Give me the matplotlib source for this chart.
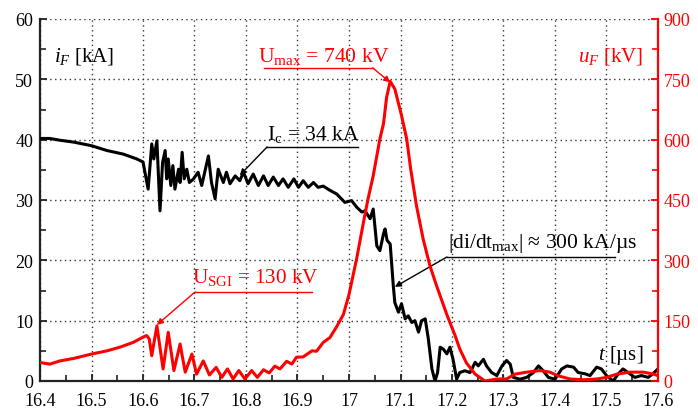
import matplotlib
matplotlib.use("Agg")
import matplotlib.pyplot as plt
from matplotlib.ticker import MultipleLocator

plt.rcParams['font.family'] = ['Liberation Serif', 'DejaVu Serif']
plt.rcParams['mathtext.fontset'] = 'custom'
plt.rcParams['mathtext.rm'] = 'Liberation Serif'
plt.rcParams['mathtext.it'] = 'Liberation Serif:italic'

# ---- current i_F [kA] ----
t_i = [16.400, 16.419, 16.439, 16.465, 16.500, 16.530, 16.562, 16.588, 16.600,
       16.610, 16.617, 16.621, 16.627, 16.633, 16.638, 16.643, 16.646, 16.649,
       16.654, 16.658, 16.662, 16.669, 16.672, 16.676, 16.680, 16.685, 16.690,
       16.698, 16.707, 16.714, 16.727, 16.733, 16.740, 16.746, 16.756, 16.762,
       16.769, 16.779, 16.788, 16.795, 16.804, 16.814, 16.824, 16.834, 16.843,
       16.853, 16.863, 16.872, 16.882, 16.893, 16.902, 16.911, 16.921, 16.931,
       16.940, 16.950, 16.963, 16.976, 16.992, 17.005, 17.015, 17.025, 17.031,
       17.041, 17.047, 17.054, 17.060, 17.067, 17.070, 17.074, 17.080, 17.086,
       17.089, 17.096, 17.102, 17.109, 17.115, 17.122, 17.128, 17.135, 17.141,
       17.148, 17.154, 17.161, 17.167, 17.172, 17.177, 17.183, 17.190, 17.196,
       17.202, 17.209, 17.215, 17.225, 17.235, 17.245, 17.251, 17.261, 17.267,
       17.277, 17.287, 17.297, 17.306, 17.313, 17.319, 17.332, 17.345, 17.358,
       17.368, 17.377, 17.387, 17.400, 17.413, 17.423, 17.436, 17.445, 17.458,
       17.468, 17.481, 17.490, 17.500, 17.513, 17.523, 17.532, 17.542, 17.555,
       17.568, 17.581, 17.590, 17.600]
i_kA = [40.2, 40.2, 39.9, 39.6, 39.0, 38.2, 37.6, 36.8, 36.3,
        31.8, 39.3, 36.8, 39.8, 28.2, 36.2, 38.2, 33.5, 36.8,
        32.4, 35.7, 31.8, 35.1, 32.9, 37.9, 33.5, 35.1, 32.9,
        33.5, 34.6, 32.4, 37.3, 32.9, 30.2, 35.1, 32.9, 34.6,
        32.7, 34.0, 33.2, 34.6, 32.7, 34.3, 32.4, 34.0, 32.4,
        33.8, 32.4, 33.5, 32.1, 33.5, 32.1, 33.2, 32.1, 32.9,
        32.1, 32.3, 31.6, 31.0, 29.6, 29.9, 28.8, 28.0, 28.2,
        26.9, 28.5, 22.4, 21.6, 24.4, 25.2, 23.3, 22.7, 15.8,
        13.0, 11.4, 12.8, 10.3, 10.8, 9.7, 10.0, 8.1, 10.0,
        10.3, 7.0, 2.0, 0.0, 1.4, 5.6, 5.3, 4.5, 5.6,
        3.6, 0.3, 1.4, 1.7, 1.4, 3.1, 2.5, 3.6, 2.5,
        1.4, 0.9, 2.5, 3.4, 2.8, 0.6, 0.3, 0.6, 1.4,
        2.5, 1.7, 0.6, 0.3, 2.0, 2.5, 2.3, 1.4, 1.2,
        0.9, 2.3, 2.0, 0.9, 0.0, 1.2, 2.0, 1.4, 0.6,
        0.9, 0.6, 1.2, 2.0]

# ---- voltage u_F [kV] ----
t_u = [16.400, 16.419, 16.439, 16.465, 16.500, 16.530, 16.555, 16.581, 16.600,
       16.607, 16.612, 16.617, 16.627, 16.639, 16.649, 16.660, 16.672, 16.682,
       16.695, 16.704, 16.717, 16.729, 16.742, 16.753, 16.764, 16.775, 16.786,
       16.798, 16.811, 16.822, 16.834, 16.845, 16.856, 16.866, 16.879, 16.889,
       16.898, 16.911, 16.928, 16.937, 16.950, 16.963, 16.976, 16.989, 17.000,
       17.015, 17.028, 17.037, 17.047, 17.060, 17.067, 17.073, 17.080, 17.089,
       17.102, 17.112, 17.120, 17.131, 17.144, 17.157, 17.170, 17.190, 17.206,
       17.215, 17.228, 17.245, 17.264, 17.287, 17.306, 17.322, 17.345, 17.371,
       17.390, 17.406, 17.429, 17.455, 17.481, 17.500, 17.520, 17.546, 17.572,
       17.592, 17.600]
u_kV = [46, 42, 50, 56, 67, 75, 84, 96, 109,
        113, 105, 63, 137, 30, 121, 26, 92, 22,
        67, 17, 50, 15, 34, 9, 30, 5, 26,
        5, 26, 9, 28, 20, 37, 30, 49, 42,
        59, 60, 75, 74, 96, 108, 135, 165, 215,
        305, 394, 453, 510, 602, 640, 705, 745, 726,
        660, 602, 525, 436, 353, 287, 237, 165, 113,
        80, 45, 17, 0, 5, 5, 17, 22, 26,
        22, 13, 5, 3, 5, 9, 17, 22, 22,
        17, 13]

x_ticks = [16.4, 16.5, 16.6, 16.7, 16.8, 16.9, 17, 17.1, 17.2, 17.3, 17.4, 17.5, 17.6]
x_labels = ['16.4', '16.5', '16.6', '16.7', '16.8', '16.9', '17', '17.1', '17.2',
            '17.3', '17.4', '17.5', '17.6']
i_ticks = [0, 10, 20, 30, 40, 50, 60]
u_ticks = [0, 150, 300, 450, 600, 750, 900]

RED = '#ff0000'

fig = plt.figure(figsize=(6.98, 4.10), dpi=100)
ax = fig.add_axes([40/698, 28/410, 618/698, 362/410])
ax2 = ax.twinx()

ax.plot(t_i, i_kA, color='black', lw=2.2, zorder=3, solid_joinstyle='round')
ax2.plot(t_u, u_kV, color=RED, lw=2.2, zorder=3, solid_joinstyle='round')

ax.set_xlim(16.4, 17.6)
ax.set_ylim(0, 60)
ax2.set_ylim(0, 900)
ax.set_xticks(x_ticks)
ax.set_xticklabels(x_labels)
ax.set_yticks(i_ticks)
ax2.set_yticks(u_ticks)
ax.xaxis.set_minor_locator(MultipleLocator(0.05))
ax.yaxis.set_minor_locator(MultipleLocator(5))
ax2.yaxis.set_minor_locator(MultipleLocator(75))

ax.grid(True, which='major', linestyle=(0, (1, 2.5)), color='#333333', lw=1.0)
ax.set_axisbelow(True)

for a in (ax, ax2):
    a.spines['top'].set_visible(False)
ax.spines['right'].set_visible(False)
ax.spines['left'].set_linewidth(1.6)
ax.spines['left'].set_color('#222222')
ax.spines['bottom'].set_linewidth(1.6)
ax.spines['bottom'].set_color('#222222')
ax2.spines['left'].set_visible(False)
ax2.spines['bottom'].set_visible(False)
ax2.spines['right'].set_color(RED)
ax2.spines['right'].set_linewidth(1.6)

ax.tick_params(axis='both', which='major', direction='in', length=5, width=1.3,
               labelsize=13, color='#222222')
ax.tick_params(axis='both', which='minor', direction='in', length=4, width=1.2,
               color='#222222')
ax.tick_params(axis='x', pad=8)
ax.tick_params(axis='y', pad=5)
ax2.tick_params(axis='y', which='major', direction='in', length=5, width=1.3,
                labelsize=13, color=RED, labelcolor=RED, pad=4)
ax2.tick_params(axis='y', which='minor', direction='in', length=4, width=1.2,
                color=RED)

# axis captions
ax.text(0.022, 0.885, r'$i_F$ [kA]', transform=ax.transAxes, fontsize=15,
        ha='left', va='baseline')
ax.text(0.976, 0.885, r'$u_F$ [kV]', transform=ax.transAxes, fontsize=15,
        ha='right', va='baseline', color=RED)
ax.text(0.977, 0.06, r'$t$ [µs]', transform=ax.transAxes, fontsize=15,
        ha='right', va='baseline')

arrow_kw = dict(arrowstyle='-|>', lw=1.0, mutation_scale=9, shrinkA=0, shrinkB=0)

def leader(axis, text, tx, ty, ux0, ux1, uy, from_x, tip, color, fs):
    axis.text(tx, ty, text, fontsize=fs, color=color, ha='left', va='baseline',
              zorder=6)
    axis.plot([ux0, ux1], [uy, uy], color=color, lw=1.0, zorder=6)
    axis.annotate('', xy=tip, xytext=(from_x, uy),
                  arrowprops=dict(color=color, **arrow_kw), zorder=6)

leader(ax, r'U$_{\rm max}$ = 740 kV', 16.823, 53.0, 16.834, 17.046, 51.9,
       17.046, (17.080, 49.5), RED, 15.6)
leader(ax, r'I$_{\rm c}$ = 34 kA', 16.841, 40.1, 16.841, 17.017, 38.8,
       16.841, (16.788, 34.1), 'black', 15.6)
leader(ax, r'U$_{\rm SGI}$ = 130 kV', 16.695, 16.4, 16.701, 16.928, 14.75,
       16.701, (16.627, 9.3), RED, 15.2)
leader(ax, r'|di/dt$_{\rm max}$| ≈ 300 kA/µs', 17.192, 22.2, 17.190, 17.517, 20.55,
       17.190, (17.089, 15.6), 'black', 15.5)

ax2.set_zorder(ax.get_zorder() + 1)
ax2.patch.set_visible(False)

fig.savefig('out.png', dpi=100)
